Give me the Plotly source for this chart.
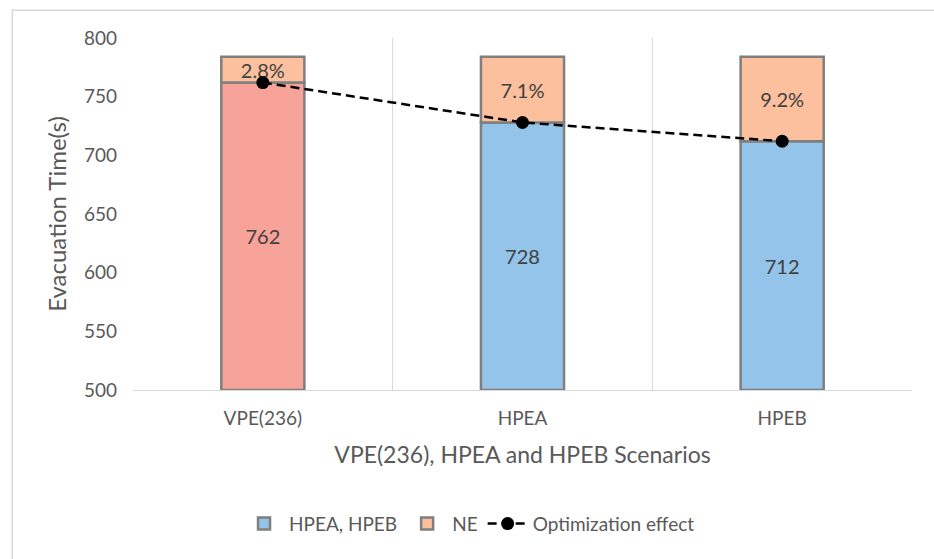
import plotly.graph_objects as go

categories = ["VPE(236)", "HPEA", "HPEB"]
evac_time = [762, 728, 712]          # bottom segment (HPEA, HPEB / VPE)
total_time = [784, 784, 784]         # top of stacked bar (NE)
ne_labels = ["2.8%", "7.1%", "9.2%"]
y_ticks = [500, 550, 600, 650, 700, 750, 800]

Y_MIN, Y_MAX = 500, 800
FONT = "Lato"
TXT = "#595959"
BORDER = "#7F7F7F"
SALMON = "#F8A399"
BLUE = "#94C4EA"
PEACH = "#FCC09E"
LBL = dict(color="#404040", size=20, family=FONT)

ne_values = [t - e for t, e in zip(total_time, evac_time)]

fig = go.Figure()

# VPE bottom bar (salmon, no legend)
fig.add_trace(go.Bar(
    x=categories[:1], y=[v - Y_MIN for v in evac_time[:1]], base=[Y_MIN],
    marker=dict(color=SALMON, line=dict(color=BORDER, width=2.5)),
    width=0.32, text=[str(v) for v in evac_time[:1]],
    textposition="inside", insidetextanchor="middle", textangle=0,
    insidetextfont=LBL, showlegend=False, hoverinfo="skip"))

# HPEA, HPEB bottom bars
fig.add_trace(go.Bar(
    name="HPEA, HPEB",
    x=categories[1:], y=[v - Y_MIN for v in evac_time[1:]], base=[Y_MIN] * 2,
    marker=dict(color=BLUE, line=dict(color=BORDER, width=2.5)),
    width=0.32, text=[str(v) for v in evac_time[1:]],
    textposition="inside", insidetextanchor="middle", textangle=0,
    insidetextfont=LBL, hoverinfo="skip"))

# NE top segments
fig.add_trace(go.Bar(
    name="NE",
    x=categories, y=ne_values, base=evac_time,
    marker=dict(color=PEACH, line=dict(color=BORDER, width=2.5)),
    width=0.32, text=ne_labels,
    textposition="inside", insidetextanchor="middle", textangle=0,
    insidetextfont=LBL, constraintext="none", hoverinfo="skip"))

# Optimization effect line
fig.add_trace(go.Scatter(
    name="Optimization effect",
    x=categories, y=evac_time, mode="lines+markers",
    line=dict(color="black", width=2.5, dash="9px,5px"),
    marker=dict(color="black", size=13),
    hoverinfo="skip"))

fig.update_layout(
    width=934, height=559,
    barmode="overlay",
    paper_bgcolor="white", plot_bgcolor="white",
    font=dict(family=FONT, color=TXT, size=19),
    margin=dict(l=133, r=22, t=38, b=169),
    legend=dict(orientation="h", x=0.432, xanchor="center", y=-0.38, yanchor="middle",
                font=dict(size=19, color=TXT), traceorder="normal", itemwidth=40),
    shapes=[dict(type="rect", xref="paper", yref="paper",
                 x0=-0.155, x1=1.05, y0=-0.5, y1=1.079,
                 line=dict(color="#D9D9D9", width=1.5), layer="below")],
)

fig.update_xaxes(
    type="category", tickson="boundaries", ticks="", showgrid=True,
    gridcolor="#D9D9D9", gridwidth=1.2,
    showline=True, linecolor="#D9D9D9", linewidth=1.2,
    ticklabelstandoff=11,
    tickfont=dict(size=19, color=TXT),
    title=dict(text="VPE(236), HPEA and HPEB Scenarios", font=dict(size=23, color=TXT), standoff=18),
)

fig.update_yaxes(
    range=[Y_MIN, Y_MAX], tickvals=y_ticks, showgrid=False, zeroline=False,
    showline=False, ticks="", ticklabelstandoff=15,
    tickfont=dict(size=19, color=TXT),
    title=dict(text="Evacuation Time(s)", font=dict(size=24, color=TXT), standoff=10),
)

fig.write_html("out.html", config={"displayModeBar": False},
               post_script="document.body.style.margin='0px';")
